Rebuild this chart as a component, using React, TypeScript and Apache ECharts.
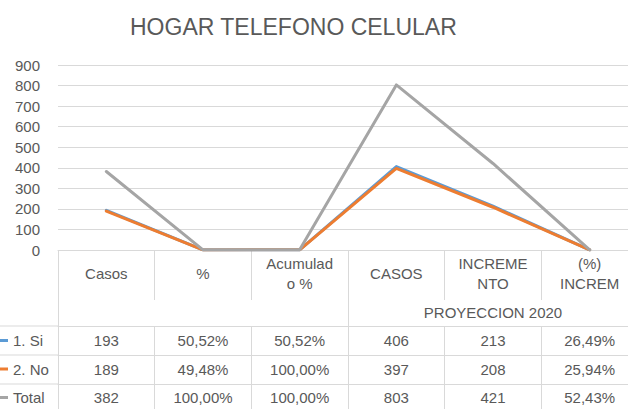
import React, { useEffect, useRef } from "react";
import * as echarts from "echarts";

const categories = ["Casos", "%", "Acumulad\no %", "CASOS", "INCREME\nNTO", "(%)\nINCREM"];
const groupLabels = ["", "PROYECCION 2020"];
const seriesNames = ["1. Si", "2. No", "Total"];
const siValues = [193, 0.5052, 0.5052, 406, 213, 0.2649];
const noValues = [189, 0.4948, 1.0, 397, 208, 0.2594];
const totalValues = [382, 1.0, 1.0, 803, 421, 0.5243];
const percentColumns = [1, 2, 5];
const yTicks = { min: 0, max: 900, interval: 100 };

const colors = ["#5B9BD5", "#ED7D31", "#A5A5A5"];
const TEXT = "#595959";
const LINE = "#D9D9D9";
const FONT = "Liberation Sans";
const D = 10; // chart offset relative to page

function fmt(v: number, i: number): string {
  if (percentColumns.includes(i)) {
    return (v * 100).toFixed(2).replace(".", ",") + "%";
  }
  return String(v);
}

export default function App() {
  const ref = useRef<HTMLDivElement>(null);
  useEffect(() => {
    if (!ref.current) return;
    const chart = echarts.init(ref.current, undefined, { renderer: "svg" });
    const gridLeft = 58 + D;
    const gridTop = 65;
    const gridBottomY = 250;
    const chartW = 660;
    const chartH = 409;
    const rowsData = [siValues, noValues, totalValues];
    const rowAxis = (offset: number, tickLen: number, margin: number, row: number[]) => ({
      type: "category",
      gridIndex: 0,
      position: "bottom",
      offset,
      data: categories,
      boundaryGap: true,
      axisLine: { show: true, lineStyle: { color: LINE, width: 1 } },
      axisTick: { show: true, length: tickLen, interval: 0, alignWithLabel: false, lineStyle: { color: LINE, width: 1 } },
      axisLabel: {
        interval: 0,
        margin,
        verticalAlign: "middle",
        color: TEXT,
        fontSize: 15,
        fontFamily: FONT,
        formatter: (_v: string, i: number) => fmt(row[i], i),
      },
      splitLine: { show: false },
    });
    const legendTops = [333, 361.5, 390];
    chart.setOption({
      animation: false,
      backgroundColor: "#ffffff",
      title: {
        text: "HOGAR TELEFONO CELULAR",
        left: 125 + D,
        top: 10,
        textStyle: { color: TEXT, fontSize: 23, fontWeight: "normal", fontFamily: FONT },
      },
      legend: seriesNames.map((n, i) => ({
        data: [n],
        left: 9,
        top: legendTops[i],
        padding: 0,
        icon: "rect",
        itemWidth: 9,
        itemHeight: 3,
        itemGap: 5,
        selectedMode: false,
        textStyle: { color: TEXT, fontSize: 15, fontFamily: FONT, padding: [0, 0, 0, 0] },
      })),
      grid: {
        left: gridLeft,
        top: gridTop,
        right: chartW - (638 + D),
        bottom: chartH - gridBottomY,
        containLabel: false,
      },
      xAxis: [
        {
          type: "category",
          position: "bottom",
          data: categories,
          boundaryGap: true,
          axisLine: { show: true, lineStyle: { color: LINE, width: 1 } },
          axisTick: { show: true, length: 50, interval: 0, alignWithLabel: false, lineStyle: { color: LINE, width: 1 } },
          axisLabel: {
            interval: 0,
            margin: 23,
            verticalAlign: "middle",
            lineHeight: 20,
            color: TEXT,
            fontSize: 15,
            fontFamily: FONT,
          },
          splitLine: { show: false },
        },
        {
          type: "category",
          position: "bottom",
          offset: 50,
          data: ["g1", "g2"],
          boundaryGap: true,
          axisLine: { show: false },
          axisTick: { show: true, length: 26, interval: 0, alignWithLabel: false, lineStyle: { color: LINE, width: 1 } },
          axisLabel: {
            interval: 0,
            margin: 12,
            verticalAlign: "middle",
            color: TEXT,
            fontSize: 15,
            fontFamily: FONT,
            formatter: (_v: string, i: number) => groupLabels[i],
          },
          splitLine: { show: false },
        },
        rowAxis(76, 29, 14.5, rowsData[0]),
        rowAxis(105, 29, 14, rowsData[1]),
        rowAxis(134, 30, 13.5, rowsData[2]),
      ],
      yAxis: {
        type: "value",
        min: yTicks.min,
        max: yTicks.max,
        interval: yTicks.interval,
        axisLine: { show: false },
        axisTick: { show: false },
        axisLabel: { color: TEXT, fontSize: 15, fontFamily: FONT, margin: 18 },
        splitLine: { show: true, lineStyle: { color: LINE, width: 1 } },
      },
      graphic: [326, 355, 384].map((y) => ({
        type: "line",
        shape: { x1: 0, y1: y, x2: gridLeft, y2: y },
        style: { stroke: LINE, lineWidth: 1 },
        silent: true,
      })),
      series: rowsData.map((vals, i) => ({
        name: seriesNames[i],
        type: "line",
        xAxisIndex: 0,
        data: vals,
        showSymbol: false,
        symbol: "none",
        lineStyle: { color: colors[i], width: 3, cap: "round", join: "round" },
        itemStyle: { color: colors[i] },
        z: 3 + i,
      })),
    });
    return () => chart.dispose();
  }, []);
  return (
    <div style={{ position: "absolute", left: 0, top: 0, width: 628, height: 409, overflow: "hidden", background: "#fff" }}>
      <div ref={ref} style={{ position: "absolute", left: -D, top: 0, width: 660, height: 409 }} />
    </div>
  );
}
